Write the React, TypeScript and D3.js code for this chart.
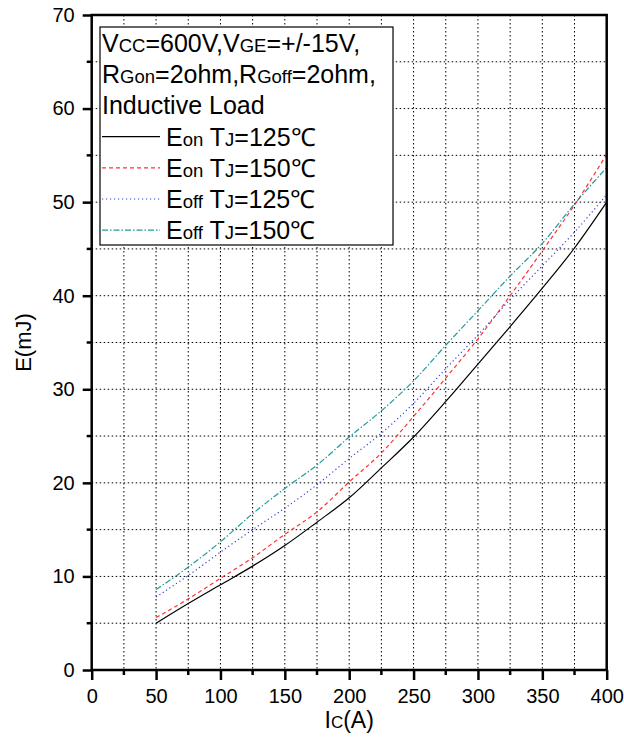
import React, { useEffect, useRef } from 'react';
import * as d3 from 'd3';

// collector current (A)
const ic = [50, 75, 100, 125, 150, 175, 200, 225, 250, 275, 300, 325, 350, 375, 400];
// switching energy (mJ)
const eonTj125 = [5.0, 7.1, 9.1, 11.1, 13.3, 15.8, 18.4, 21.6, 24.9, 28.7, 32.7, 36.7, 40.8, 45.1, 50.0];
const eonTj150 = [5.6, 7.6, 9.8, 12.0, 14.5, 16.9, 20.1, 23.2, 27.1, 31.2, 35.4, 40.0, 44.8, 49.7, 55.1];
const eoffTj125 = [7.8, 10.1, 12.6, 15.0, 17.3, 19.8, 22.6, 25.3, 28.5, 32.2, 35.8, 39.6, 43.2, 46.8, 50.8];
const eoffTj150 = [8.6, 11.0, 13.7, 16.7, 19.4, 21.9, 24.9, 27.7, 30.9, 34.7, 38.4, 42.1, 45.6, 49.8, 53.7];

const xTicks = [0, 50, 100, 150, 200, 250, 300, 350, 400];
const yTicks = [0, 10, 20, 30, 40, 50, 60, 70];

const series = [
  { big: 'E', small: 'on', temp: '125', values: eonTj125, color: '#000000', dash: null },
  { big: 'E', small: 'on', temp: '150', values: eonTj150, color: '#ff3333', dash: '4,3' },
  { big: 'E', small: 'off', temp: '125', values: eoffTj125, color: '#3344cc', dash: '1.2,2.8' },
  { big: 'E', small: 'off', temp: '150', values: eoffTj150, color: '#229999', dash: '6,2,1.5,2' },
];

const FONT = 'Arial, "Liberation Sans", sans-serif';

const App = () => {
  const svgRef = useRef<SVGSVGElement>(null);
  const width = 624;
  const height = 738;
  const plot = { left: 91.7, right: 606.7, top: 15, bottom: 670 };

  useEffect(() => {
    if (!svgRef.current) return;
    const svg = d3.select(svgRef.current);
    svg.selectAll('*').remove();

    const x = d3.scaleLinear().domain([0, 400]).range([plot.left, plot.right]);
    const y = d3.scaleLinear().domain([0, 70]).range([plot.bottom, plot.top]);

    svg.append('rect').attr('width', width).attr('height', height).attr('fill', '#fff');

    // dotted grid on every major and minor step
    const grid = svg.append('g').attr('stroke', '#000').attr('stroke-width', 1).attr('stroke-dasharray', '1.5,2.5');
    grid.selectAll('line.gx')
      .data(d3.range(25, 400, 25))
      .enter().append('line')
      .attr('x1', d => x(d)).attr('x2', d => x(d))
      .attr('y1', plot.top).attr('y2', plot.bottom);
    grid.selectAll('line.gy')
      .data(d3.range(5, 70, 5))
      .enter().append('line')
      .attr('x1', plot.left).attr('x2', plot.right)
      .attr('y1', d => y(d)).attr('y2', d => y(d));

    // curves
    const line = d3.line<number>()
      .x((_, i) => x(ic[i]))
      .y(d => y(d))
      .curve(d3.curveMonotoneX);

    series.forEach(s => {
      svg.append('path')
        .attr('d', line(s.values))
        .attr('fill', 'none')
        .attr('stroke', s.color)
        .attr('stroke-width', 1.2)
        .attr('stroke-dasharray', s.dash);
    });

    // frame
    svg.append('rect')
      .attr('x', plot.left).attr('y', plot.top)
      .attr('width', plot.right - plot.left).attr('height', plot.bottom - plot.top)
      .attr('fill', 'none').attr('stroke', '#000').attr('stroke-width', 2.5);

    // x axis
    const xAxis = svg.append('g')
      .attr('transform', `translate(0,${plot.bottom})`)
      .call(d3.axisBottom(x).tickValues(xTicks).tickSize(10).tickSizeOuter(0).tickPadding(9));
    xAxis.selectAll('line').attr('stroke-width', 2.5);
    xAxis.select('.domain').remove();
    xAxis.selectAll('text').style('font-family', FONT).style('font-size', '20px').attr('fill', '#000');
    svg.append('g').selectAll('line')
      .data(d3.range(25, 400, 50))
      .enter().append('line')
      .attr('x1', d => x(d)).attr('x2', d => x(d))
      .attr('y1', plot.bottom).attr('y2', plot.bottom + 5)
      .attr('stroke', '#000').attr('stroke-width', 2.5);

    // y axis
    const yAxis = svg.append('g')
      .attr('transform', `translate(${plot.left},0)`)
      .call(d3.axisLeft(y).tickValues(yTicks).tickSize(9).tickSizeOuter(0).tickPadding(8));
    yAxis.selectAll('line').attr('stroke-width', 2.5);
    yAxis.select('.domain').remove();
    yAxis.selectAll('text').style('font-family', FONT).style('font-size', '20px').attr('fill', '#000');
    svg.append('g').selectAll('line')
      .data(d3.range(5, 70, 10))
      .enter().append('line')
      .attr('x1', plot.left - 5).attr('x2', plot.left)
      .attr('y1', d => y(d)).attr('y2', d => y(d))
      .attr('stroke', '#000').attr('stroke-width', 2.5);

    // axis titles
    const xt = svg.append('text')
      .attr('x', (plot.left + plot.right) / 2).attr('y', 728)
      .attr('text-anchor', 'middle')
      .style('font-family', FONT).style('font-size', '23px');
    xt.append('tspan').text('I');
    xt.append('tspan').style('font-size', '17px').text('C');
    xt.append('tspan').text('(A)');

    svg.append('text')
      .attr('transform', `translate(31,${(plot.top + plot.bottom) / 2}) rotate(-90)`)
      .attr('text-anchor', 'middle')
      .style('font-family', FONT).style('font-size', '22px')
      .text('E(mJ)');

    // legend
    const lg = svg.append('g');
    lg.append('rect')
      .attr('x', 100).attr('y', 27).attr('width', 293).attr('height', 218)
      .attr('fill', '#fff').attr('stroke', '#000').attr('stroke-width', 1.2);

    const rowY = (i: number) => 52 + i * 31.2;
    const big = '25px';
    const small = '18.5px';
    const txt = (i: number, xPos: number) => lg.append('text')
      .attr('x', xPos).attr('y', rowY(i))
      .style('font-family', FONT).style('font-size', big);

    const r0 = txt(0, 102);
    r0.append('tspan').text('V');
    r0.append('tspan').style('font-size', small).text('CC');
    r0.append('tspan').text('=600V,V');
    r0.append('tspan').style('font-size', small).text('GE');
    r0.append('tspan').text('=+/-15V,');

    const r1 = txt(1, 102);
    r1.append('tspan').text('R');
    r1.append('tspan').style('font-size', small).text('Gon');
    r1.append('tspan').text('=2ohm,R');
    r1.append('tspan').style('font-size', small).text('Goff');
    r1.append('tspan').text('=2ohm,');

    txt(2, 102).text('Inductive Load');

    series.forEach((s, k) => {
      const i = k + 3;
      const cy = rowY(i) - 9;
      lg.append('line')
        .attr('x1', 102).attr('x2', 160)
        .attr('y1', cy).attr('y2', cy)
        .attr('stroke', s.color).attr('stroke-width', 1.2)
        .attr('stroke-dasharray', s.dash);
      const t = txt(i, 166);
      t.append('tspan').text(s.big);
      t.append('tspan').style('font-size', small).text(s.small);
      t.append('tspan').text(' T');
      t.append('tspan').style('font-size', small).text('J');
      t.append('tspan').text(`=${s.temp}℃`);
    });
  }, []);

  return (
    <svg
      ref={svgRef}
      width={width}
      height={height}
      style={{ position: 'absolute', left: 0, top: 0, background: '#fff' }}
    />
  );
};

export default App;
